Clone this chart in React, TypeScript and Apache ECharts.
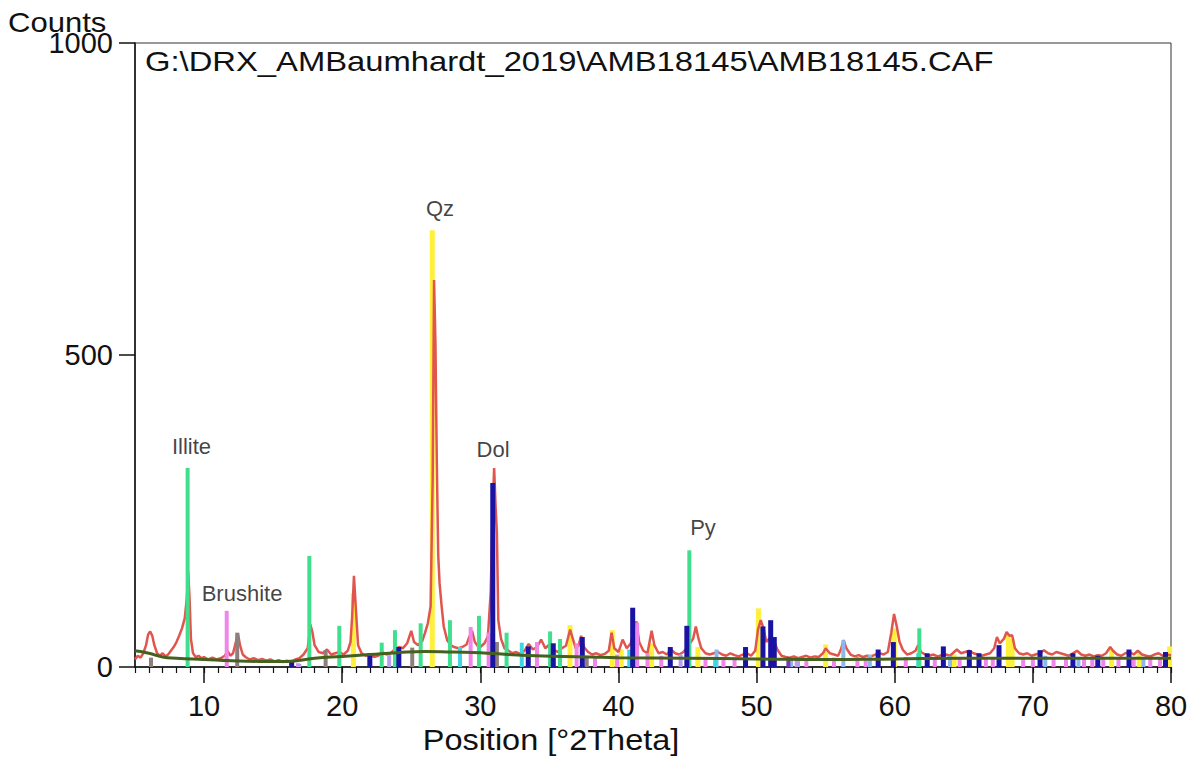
import React, { useEffect, useRef } from "react";
import * as echarts from "echarts";

// Measured pattern [2Theta, counts]
const measured: number[][] = [
  [5.0, 12], [5.2, 18], [5.4, 15], [5.6, 22], [5.8, 35], [5.95, 52], [6.1, 57], [6.25, 50], [6.4, 35], [6.6, 22],
  [6.8, 18], [7.0, 22], [7.2, 17], [7.4, 20], [7.6, 26], [7.8, 32], [8.0, 40], [8.2, 50], [8.4, 62], [8.6, 78],
  [8.75, 110], [8.85, 153], [8.95, 110], [9.05, 45], [9.2, 22], [9.4, 16], [9.6, 18], [9.8, 14], [10.0, 16], [10.3, 12],
  [10.6, 15], [10.9, 12], [11.2, 14], [11.5, 18], [11.7, 26], [11.9, 18], [12.1, 22], [12.3, 40], [12.45, 54], [12.6, 35],
  [12.8, 20], [13.0, 16], [13.3, 12], [13.6, 14], [13.9, 11], [14.2, 13], [14.5, 10], [14.8, 12], [15.1, 9], [15.4, 11],
  [15.7, 8], [16.0, 10], [16.3, 8], [16.6, 12], [16.9, 14], [17.2, 20], [17.5, 30], [17.7, 68], [17.85, 55], [18.0, 35],
  [18.3, 24], [18.6, 22], [18.9, 28], [19.2, 20], [19.5, 22], [19.8, 24], [20.1, 20], [20.4, 26], [20.6, 40], [20.72, 80],
  [20.85, 146], [21.0, 90], [21.15, 35], [21.4, 22], [21.7, 18], [22.0, 20], [22.3, 16], [22.6, 18], [22.9, 24], [23.2, 20],
  [23.5, 22], [23.8, 28], [24.1, 32], [24.4, 30], [24.7, 38], [25.0, 58], [25.2, 40], [25.5, 35], [25.8, 42], [26.0, 55],
  [26.2, 70], [26.4, 97], [26.55, 300], [26.65, 620], [26.75, 520], [26.85, 327], [26.95, 180], [27.05, 134], [27.2, 97], [27.35, 65],
  [27.6, 43], [27.85, 35], [28.1, 32], [28.4, 30], [28.7, 32], [29.0, 36], [29.2, 48], [29.4, 58], [29.6, 40], [29.8, 34],
  [30.0, 32], [30.3, 38], [30.55, 49], [30.75, 120], [30.9, 260], [31.0, 319], [31.1, 260], [31.2, 214], [31.3, 75], [31.5, 45],
  [31.75, 30], [32.0, 27], [32.3, 22], [32.6, 24], [32.9, 21], [33.2, 26], [33.5, 37], [33.8, 28], [34.1, 32], [34.4, 44],
  [34.7, 30], [35.0, 36], [35.3, 28], [35.6, 24], [35.9, 30], [36.2, 34], [36.5, 60], [36.7, 45], [36.9, 30], [37.1, 34],
  [37.3, 50], [37.5, 32], [37.8, 24], [38.1, 20], [38.4, 22], [38.7, 19], [39.0, 21], [39.3, 26], [39.5, 55], [39.7, 30],
  [40.0, 24], [40.3, 44], [40.6, 30], [40.9, 38], [41.1, 60], [41.3, 73], [41.5, 40], [41.8, 26], [42.1, 22], [42.4, 58],
  [42.6, 35], [42.9, 22], [43.2, 24], [43.5, 20], [43.8, 28], [44.1, 22], [44.4, 20], [44.7, 24], [45.0, 32], [45.4, 45],
  [45.6, 65], [45.8, 45], [46.0, 30], [46.3, 22], [46.6, 20], [46.9, 22], [47.2, 24], [47.5, 20], [47.8, 18], [48.1, 22],
  [48.4, 19], [48.7, 17], [49.0, 20], [49.3, 22], [49.6, 18], [49.9, 26], [50.1, 60], [50.3, 75], [50.5, 62], [50.7, 40],
  [51.0, 48], [51.2, 45], [51.5, 28], [51.8, 18], [52.1, 16], [52.4, 15], [52.7, 17], [53.0, 14], [53.3, 16], [53.6, 18],
  [53.9, 15], [54.2, 17], [54.5, 16], [54.8, 22], [55.0, 30], [55.3, 22], [55.6, 20], [55.9, 18], [56.1, 28], [56.3, 43],
  [56.5, 30], [56.8, 20], [57.1, 17], [57.4, 19], [57.7, 16], [58.0, 18], [58.3, 17], [58.6, 20], [58.9, 22], [59.2, 20],
  [59.5, 24], [59.75, 55], [59.95, 85], [60.15, 65], [60.35, 40], [60.6, 27], [60.9, 20], [61.2, 22], [61.5, 26], [61.7, 35],
  [61.9, 24], [62.2, 20], [62.5, 18], [62.8, 20], [63.1, 17], [63.4, 19], [63.7, 20], [64.0, 18], [64.3, 24], [64.5, 28],
  [64.8, 22], [65.1, 24], [65.4, 26], [65.7, 22], [66.0, 20], [66.3, 18], [66.6, 20], [66.9, 22], [67.2, 30], [67.4, 48],
  [67.6, 38], [67.9, 45], [68.1, 56], [68.3, 50], [68.5, 51], [68.7, 30], [69.0, 22], [69.3, 20], [69.6, 22], [69.9, 18],
  [70.2, 20], [70.5, 22], [70.8, 27], [71.1, 22], [71.4, 20], [71.7, 24], [72.0, 22], [72.3, 20], [72.6, 18], [72.9, 22],
  [73.2, 26], [73.5, 20], [73.8, 18], [74.1, 20], [74.4, 17], [74.7, 19], [75.0, 18], [75.3, 22], [75.6, 32], [75.8, 26],
  [76.1, 20], [76.4, 18], [76.7, 22], [77.0, 24], [77.3, 20], [77.6, 26], [77.9, 20], [78.2, 18], [78.5, 17], [78.8, 20],
  [79.1, 22], [79.4, 18], [79.7, 20], [80.0, 19],
];

// Background curve
const background: number[][] = [
  [5, 26], [6, 22], [7, 16], [8, 14], [10, 12], [12, 10], [14, 9], [16, 9], [18, 14], [20, 17], [22, 20], [24, 23],
  [26, 25], [28, 24], [30, 23], [32, 20], [34, 18], [36, 17], [38, 16], [40, 15], [45, 14], [50, 13], [55, 12],
  [60, 13], [65, 14], [70, 14], [75, 14], [80, 14],
];

// Reference-pattern sticks, grouped by colour
const greenSticks: number[][] = [
  [8.81, 319], [17.62, 178], [19.79, 66], [22.86, 39], [23.82, 59], [25.68, 70], [27.8, 75], [29.9, 82], [31.9, 55],
  [35.05, 57], [35.77, 45], [45.13, 187], [61.78, 62],
];
const yellowSticks: number[][] = [
  [20.81, 118], [26.52, 700], [36.49, 67], [39.55, 59], [40.2, 28], [42.4, 38], [45.75, 32], [50.13, 94], [55.0, 36],
  [59.97, 62], [64.3, 20], [68.22, 51], [68.5, 45], [75.7, 28], [77.7, 22], [79.9, 33],
];
const navySticks: number[][] = [
  [16.34, 8], [22.0, 22], [24.1, 32], [30.9, 295], [33.47, 33], [35.28, 38], [37.38, 48], [41.03, 95], [43.75, 32],
  [44.95, 66], [49.2, 32], [50.46, 65], [51.02, 75], [51.28, 48], [58.8, 28], [59.9, 40], [62.35, 22], [63.52, 33],
  [65.4, 27], [66.1, 22], [67.55, 35], [70.52, 27], [72.9, 22], [74.7, 18], [76.96, 28], [79.6, 24],
];
const pinkSticks: number[][] = [
  [11.64, 90], [16.8, 6], [29.3, 64], [30.6, 55], [34.1, 40], [36.97, 38], [38.3, 14], [39.9, 20], [41.35, 71],
  [42.1, 22], [43.1, 18], [46.3, 16], [47.6, 14], [48.4, 15], [52.9, 14], [53.6, 14], [55.6, 15], [57.3, 16],
  [57.9, 14], [60.8, 16], [62.9, 15], [64.7, 14], [66.6, 14], [67.1, 15], [69.3, 14], [70.0, 15], [71.5, 14],
  [72.4, 14], [73.7, 14], [74.3, 15], [75.1, 14], [76.2, 14], [77.3, 15], [78.5, 14], [79.2, 14],
];
const lightBlueSticks: number[][] = [
  [40.9, 20], [47.1, 28], [52.5, 14], [56.28, 43], [58.2, 20], [64.0, 18], [70.9, 18], [73.3, 16], [78.0, 16],
];
const cyanSticks: number[][] = [
  [28.53, 32], [33.0, 39], [40.78, 28], [47.0, 16], [61.7, 22],
];
const greySticks: number[][] = [
  [6.16, 15], [12.4, 55], [18.8, 27], [25.07, 31], [31.2, 40], [37.7, 16],
];
const lavenderSticks: number[][] = [
  [16.9, 5], [23.4, 19], [44.5, 20], [53.0, 12],
];
const purpleSticks: number[][] = [
  [52.3, 16],
];

// Phase annotations [2Theta, counts, text]
const annotations: (number | string)[][] = [
  [27.08, 734, "Qz"],
  [9.09, 353, "Illite"],
  [30.92, 349, "Dol"],
  [46.12, 224, "Py"],
  [12.75, 117, "Brushite"],
];

const majorTicks = [10, 20, 30, 40, 50, 60, 70, 80];
const yTicks = [0, 500, 1000];

const FONT = "'Liberation Sans', Arial, sans-serif";

function stickSeries(name: string, data: number[][], color: string, width: number, z: number) {
  return {
    name,
    type: "custom",
    z,
    encode: { x: 0, y: 1 },
    data,
    renderItem: (_params: any, api: any) => {
      const top = api.coord([api.value(0), api.value(1)]);
      const base = api.coord([api.value(0), 0]);
      return {
        type: "rect",
        shape: { x: top[0] - width / 2, y: top[1], width, height: base[1] - top[1] },
        style: { fill: color },
      };
    },
  };
}

export default function App() {
  const ref = useRef<HTMLDivElement>(null);
  useEffect(() => {
    if (!ref.current) return;
    const chart = echarts.init(ref.current, null, { renderer: "svg" });
    chart.setOption({
      animation: false,
      backgroundColor: "#ffffff",
      grid: {
        left: 135,
        right: 32,
        top: 43,
        bottom: 95,
        show: true,
        borderColor: "#333",
        borderWidth: 1,
      },
      xAxis: [
        {
          type: "value",
          min: 5,
          max: 80,
          position: "bottom",
          axisLine: { show: true, lineStyle: { color: "#111", width: 1.5 } },
          axisTick: { show: true, length: 16, customValues: majorTicks, lineStyle: { color: "#111", width: 1.5 } },
          axisLabel: { customValues: majorTicks, fontSize: 29, color: "#111", margin: 24, fontFamily: FONT },
          splitLine: { show: false },
        },
        {
          type: "value",
          min: 5,
          max: 80,
          interval: 1,
          position: "bottom",
          axisLine: { show: false },
          axisTick: { show: true, length: 6, lineStyle: { color: "#111", width: 1.2 } },
          axisLabel: { show: false },
          splitLine: { show: false },
        },
      ],
      yAxis: {
        type: "value",
        min: 0,
        max: 1000,
        interval: 500,
        axisLine: { show: true, lineStyle: { color: "#111", width: 1.5 } },
        axisTick: { show: true, length: 16, customValues: yTicks, lineStyle: { color: "#111", width: 1.5 } },
        axisLabel: {
          fontSize: 29,
          color: "#111",
          margin: 22,
          fontFamily: FONT,
          formatter: (v: number) => String(v),
        },
        splitLine: { show: false },
      },
      graphic: [
        {
          type: "text",
          x: 8,
          y: 23,
          scaleX: 1.15,
          style: { text: "Counts", font: `27px ${FONT}`, fill: "#111", verticalAlign: "middle" },
        },
        {
          type: "text",
          x: 145,
          y: 61,
          scaleX: 1.17,
          style: {
            text: "G:\\DRX_AMBaumhardt_2019\\AMB18145\\AMB18145.CAF",
            font: `28px ${FONT}`,
            fill: "#111",
            verticalAlign: "middle",
          },
        },
        {
          type: "text",
          x: 551,
          y: 740,
          scaleX: 1.12,
          style: {
            text: "Position [°2Theta]",
            font: `29px ${FONT}`,
            fill: "#111",
            align: "center",
            verticalAlign: "middle",
          },
        },
      ],
      series: [
        stickSeries("yellow", yellowSticks, "#fff03c", 5, 1),
        {
          name: "measured",
          type: "line",
          data: measured,
          showSymbol: false,
          z: 2,
          lineStyle: { color: "#e0564e", width: 2.5 },
        },
        stickSeries("pink", pinkSticks, "#ef86ea", 4, 3),
        stickSeries("lightblue", lightBlueSticks, "#8cb8ee", 4, 3),
        stickSeries("lavender", lavenderSticks, "#b7a0f2", 4, 3),
        stickSeries("cyan", cyanSticks, "#3fd6e4", 4, 3),
        stickSeries("grey", greySticks, "#8e7e7e", 4, 3),
        stickSeries("purple", purpleSticks, "#7a38c0", 4, 3),
        stickSeries("green", greenSticks, "#3fdf8d", 4, 4),
        stickSeries("navy", navySticks, "#1a12a2", 5, 4),
        {
          name: "background",
          type: "line",
          data: background,
          showSymbol: false,
          smooth: true,
          z: 5,
          lineStyle: { color: "#46601e", width: 3 },
        },
        {
          name: "minorTickHolder",
          type: "line",
          xAxisIndex: 1,
          data: [],
          showSymbol: false,
          silent: true,
        },
        {
          name: "labels",
          type: "scatter",
          data: annotations,
          symbolSize: 0,
          z: 6,
          label: {
            show: true,
            position: "inside",
            formatter: (p: any) => p.data[2],
            fontSize: 22,
            color: "#111",
            fontFamily: FONT,
          },
        },
      ],
    });
    return () => chart.dispose();
  }, []);
  return (
    <div
      ref={ref}
      style={{ position: "fixed", left: 0, top: 0, width: 1203, height: 762, background: "#fff" }}
    />
  );
}
